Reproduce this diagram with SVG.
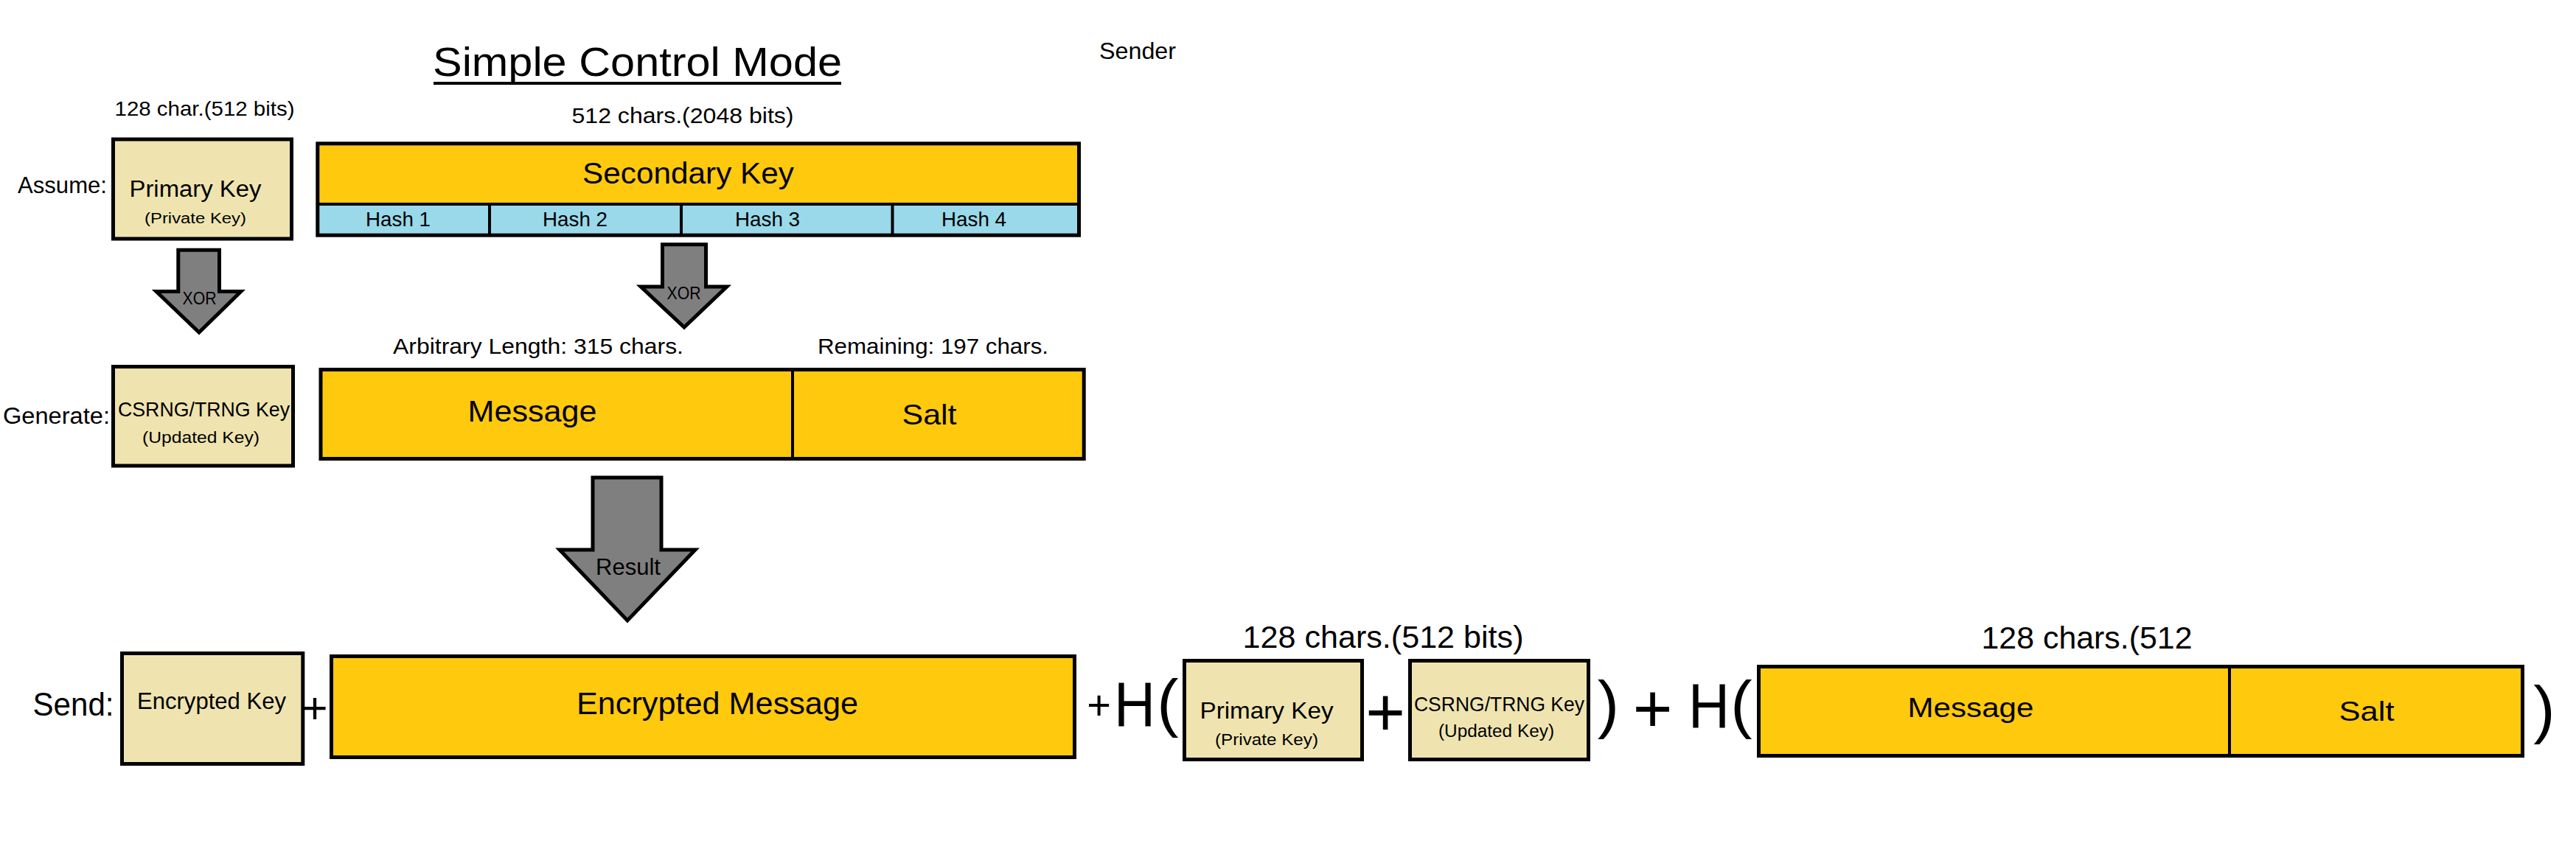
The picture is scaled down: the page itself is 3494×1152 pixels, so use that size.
<svg xmlns="http://www.w3.org/2000/svg" width="3494" height="1152" viewBox="0 0 3494 1152">
<style>
.t{font-family:"Liberation Sans",Arial,sans-serif;fill:#000;text-anchor:middle}
.box{stroke:#000;stroke-width:5}
.tan{fill:#EFE4B0}
.gold{fill:#FFC90E}
.blue{fill:#99D9EA}
.div{stroke:#000;stroke-width:4}
.arrow{fill:#7F7F7F;stroke:#000;stroke-width:5;stroke-linejoin:miter}
</style>
<rect width="3494" height="1152" fill="#fff"/>
<g id="labels">
<text class="t" x="864.5" y="103" font-size="56" textLength="555" lengthAdjust="spacingAndGlyphs">Simple Control Mode</text>
<rect x="588" y="111" width="553" height="4" fill="#000"/>
<text class="t" x="1543" y="80" font-size="32" textLength="104" lengthAdjust="spacingAndGlyphs">Sender</text>
<text class="t" x="277.5" y="157" font-size="28" textLength="244" lengthAdjust="spacingAndGlyphs">128 char.(512 bits)</text>
<text class="t" x="926" y="167" font-size="30" textLength="301" lengthAdjust="spacingAndGlyphs">512 chars.(2048 bits)</text>
<text class="t" x="84.5" y="262" font-size="32" textLength="121" lengthAdjust="spacingAndGlyphs">Assume:</text>
<text class="t" x="730" y="480" font-size="30" textLength="394" lengthAdjust="spacingAndGlyphs">Arbitrary Length: 315 chars.</text>
<text class="t" x="1265.5" y="480" font-size="30" textLength="313" lengthAdjust="spacingAndGlyphs">Remaining: 197 chars.</text>
<text class="t" x="76.5" y="575" font-size="31" textLength="145" lengthAdjust="spacingAndGlyphs">Generate:</text>
<text class="t" x="99.5" y="971" font-size="44" textLength="110" lengthAdjust="spacingAndGlyphs">Send:</text>
<text class="t" x="1876" y="879" font-size="43" textLength="381" lengthAdjust="spacingAndGlyphs">128 chars.(512 bits)</text>
<text class="t" x="2830.5" y="880" font-size="43" textLength="286" lengthAdjust="spacingAndGlyphs">128 chars.(512</text>
</g>
<g id="primary-key">
<rect class="box tan" x="153.5" y="189" width="242" height="135"/>
<text class="t" x="265" y="267" font-size="31" textLength="179" lengthAdjust="spacingAndGlyphs">Primary Key</text>
<text class="t" x="265" y="303" font-size="20" textLength="138" lengthAdjust="spacingAndGlyphs">(Private Key)</text>
</g>
<g id="secondary-key">
<rect class="gold" x="430.8" y="194.8" width="1032.7" height="82.2"/>
<rect class="blue" x="430.8" y="277" width="1032.7" height="42.2"/>
<line class="div" x1="430.8" y1="277" x2="1463.5" y2="277"/>
<line class="div" x1="664" y1="277" x2="664" y2="319"/>
<line class="div" x1="924" y1="277" x2="924" y2="319"/>
<line class="div" x1="1210.5" y1="277" x2="1210.5" y2="319"/>
<rect class="box" fill="none" x="430.8" y="194.8" width="1032.7" height="124.4"/>
<text class="t" x="933.5" y="249" font-size="40" textLength="287" lengthAdjust="spacingAndGlyphs">Secondary Key</text>
<text class="t" x="540" y="307" font-size="28" textLength="88" lengthAdjust="spacingAndGlyphs">Hash 1</text>
<text class="t" x="780" y="307" font-size="28" textLength="88" lengthAdjust="spacingAndGlyphs">Hash 2</text>
<text class="t" x="1041" y="307" font-size="28" textLength="88" lengthAdjust="spacingAndGlyphs">Hash 3</text>
<text class="t" x="1321" y="307" font-size="28" textLength="88" lengthAdjust="spacingAndGlyphs">Hash 4</text>
</g>
<g id="csrng-key">
<rect class="box tan" x="153.5" y="497.5" width="244" height="134.5"/>
<text class="t" x="276.5" y="565" font-size="28" textLength="233" lengthAdjust="spacingAndGlyphs">CSRNG/TRNG Key</text>
<text class="t" x="272.5" y="601" font-size="22" textLength="159" lengthAdjust="spacingAndGlyphs">(Updated Key)</text>
</g>
<g id="message-salt">
<rect class="box gold" x="435" y="501.5" width="1035.2" height="121"/>
<line class="div" x1="1075" y1="501.5" x2="1075" y2="622.5"/>
<text class="t" x="722" y="572" font-size="40" textLength="175" lengthAdjust="spacingAndGlyphs">Message</text>
<text class="t" x="1260.5" y="576" font-size="39" textLength="74" lengthAdjust="spacingAndGlyphs">Salt</text>
</g>
<g id="encrypted-key">
<rect class="box tan" x="165.5" y="886.5" width="245.3" height="150"/>
<text class="t" x="287" y="962" font-size="32" textLength="202" lengthAdjust="spacingAndGlyphs">Encrypted Key</text>
</g>
<g id="encrypted-message">
<rect class="box gold" x="449.5" y="890.5" width="1008" height="137"/>
<text class="t" x="973" y="969" font-size="42" textLength="382" lengthAdjust="spacingAndGlyphs">Encrypted Message</text>
</g>
<g id="hash-keys">
<text class="t" x="427" y="981" font-size="60">+</text>
<text class="t" x="1490.5" y="976" font-size="56">+</text>
<text class="t" x="1539" y="985" font-size="85" textLength="56" lengthAdjust="spacingAndGlyphs">H</text>
<text class="t" x="1584" y="983" font-size="88">(</text>
<rect class="box tan" x="1606.5" y="896.5" width="241" height="134"/>
<text class="t" x="1718" y="975" font-size="32" textLength="181" lengthAdjust="spacingAndGlyphs">Primary Key</text>
<text class="t" x="1718" y="1011" font-size="22" textLength="140" lengthAdjust="spacingAndGlyphs">(Private Key)</text>
<text class="t" x="1879" y="998" font-size="92">+</text>
<rect class="box tan" x="1912.5" y="896.5" width="242" height="134"/>
<text class="t" x="2033.5" y="965" font-size="28" textLength="231" lengthAdjust="spacingAndGlyphs">CSRNG/TRNG Key</text>
<text class="t" x="2029.5" y="1000" font-size="23" textLength="157" lengthAdjust="spacingAndGlyphs">(Updated Key)</text>
<text class="t" x="2181.5" y="985" font-size="88">)</text>
</g>
<g id="hash-message">
<text class="t" x="2241.5" y="993" font-size="92">+</text>
<text class="t" x="2318" y="987" font-size="85" textLength="56" lengthAdjust="spacingAndGlyphs">H</text>
<text class="t" x="2362" y="985" font-size="88">(</text>
<rect class="box gold" x="2385.5" y="904.5" width="1036" height="121"/>
<line class="div" x1="3024" y1="904.5" x2="3024" y2="1025.5"/>
<text class="t" x="2673" y="973" font-size="37" textLength="171" lengthAdjust="spacingAndGlyphs">Message</text>
<text class="t" x="3210" y="978" font-size="37" textLength="75" lengthAdjust="spacingAndGlyphs">Salt</text>
<text class="t" x="3451" y="992" font-size="88">)</text>
</g>
<g id="connectors">
<polygon class="arrow" points="241.8,339.2 297.5,339.2 297.5,395.5 326.8,395.5 270,451 212,395.5 241.8,395.5"/>
<text class="t" x="270.5" y="413" font-size="24" textLength="46" lengthAdjust="spacingAndGlyphs">XOR</text>
<polygon class="arrow" points="898.5,331.8 957.5,331.8 957.5,389 985.8,389 928,444 869.2,389 898.5,389"/>
<text class="t" x="927.5" y="406" font-size="24" textLength="46" lengthAdjust="spacingAndGlyphs">XOR</text>
<polygon class="arrow" points="804,648 897,648 897,746 943,746 851,842 759,746 804,746"/>
<text class="t" x="852" y="780" font-size="32" textLength="88" lengthAdjust="spacingAndGlyphs">Result</text>
</g>
</svg>
